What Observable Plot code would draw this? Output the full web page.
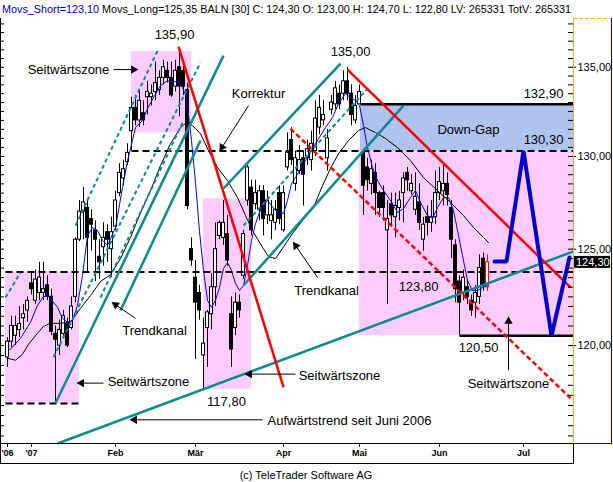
<!DOCTYPE html>
<html><head><meta charset="utf-8">
<script src="https://cdn.jsdelivr.net/npm/d3@7"></script>
<script src="https://cdn.jsdelivr.net/npm/@observablehq/plot@0.6"></script>
<style>
html,body{margin:0;padding:0;background:#fff;}
#chart svg{display:block;}
</style>
</head><body><div id="chart"></div>
<script>
// ---- Candles (trading-day index 0 = 20 Dec 2006 ... 120 = 19 Jun 2007) ----
const open = [119.4,120.2,120.5,120.8,121.4,121.8,123.2,122.3,122.7,122.7,
123.1,122.5,120.6,120.0,120.6,121.1,120.9,122.5,125.5,127.0,
127.2,126.6,126.0,124.6,125.1,125.9,125.0,126.2,128.0,128.8,
129.7,131.4,132.7,132.0,132.4,133.3,133.3,133.6,133.7,134.4,
134.8,134.4,133.9,135.0,134.8,133.7,125.0,123.5,122.7,119.5,
120.9,121.6,123.0,125.7,125.6,125.8,121.6,120.9,122.2,123.6,
127.6,128.3,127.4,127.1,128.1,126.8,126.5,126.4,128.0,126.0,
129.4,130.9,128.5,129.2,129.9,129.9,129.8,130.3,131.6,132.0,
129.9,132.6,132.9,133.5,133.5,134.2,133.5,132.0,132.9,130.2,
129.4,128.5,129.1,128.0,128.0,126.0,127.4,126.7,127.2,128.0,
129.1,128.1,127.1,127.5,125.5,126.7,126.4,126.7,128.0,128.1,
128.5,127.2,125.2,123.3,122.7,123.0,122.3,122.2,122.5,124.5,
123.0];
const high = [120.4,121.5,121.5,122.0,122.1,122.5,123.8,123.9,124.3,124.3,
123.6,122.9,121.0,121.3,121.8,121.4,122.5,125.6,127.6,128.3,
127.6,127.1,126.5,125.5,126.4,126.3,126.7,128.1,129.6,129.8,
130.7,133.3,133.4,133.7,133.1,134.2,134.0,135.3,134.8,135.4,
135.3,135.3,135.4,135.9,135.4,134.1,125.6,124.4,123.1,121.4,
121.8,123.7,126.4,126.5,127.6,126.8,122.5,122.7,122.6,126.0,
129.5,128.7,128.7,128.4,128.4,128.1,127.6,127.6,128.4,128.4,
131.3,131.6,130.3,130.6,130.3,130.9,131.4,133.1,133.4,133.1,
131.5,133.4,134.2,134.0,134.8,135.0,134.0,133.4,134.0,130.3,
129.9,129.8,129.6,128.1,128.4,127.6,128.0,128.0,128.1,129.1,
129.4,129.0,129.1,128.5,126.7,127.3,127.6,129.2,129.4,129.5,
129.1,127.6,125.5,123.6,123.9,123.4,122.6,123.1,124.7,124.8,
124.7];
const low = [118.9,119.9,120.0,120.4,120.8,121.2,122.6,122.1,122.3,122.3,
122.3,120.5,117.1,119.5,120.4,119.9,120.8,122.2,125.4,125.5,
123.8,124.9,123.3,123.4,124.1,124.3,123.5,126.0,127.8,128.4,
129.5,130.3,131.7,131.6,131.7,132.3,132.8,133.1,133.4,134.0,
134.1,133.3,133.6,132.2,133.4,127.1,124.1,119.3,121.3,117.8,
118.9,120.8,122.0,125.5,125.2,124.1,118.9,120.5,121.4,123.4,
127.3,125.7,127.1,126.5,125.7,126.3,125.5,126.0,126.3,125.9,
129.2,129.5,128.1,129.0,127.3,129.5,129.2,130.0,131.2,131.7,
129.2,132.3,132.6,132.6,133.1,133.1,131.7,131.8,132.9,126.8,
128.1,127.9,126.8,126.7,126.5,122.1,126.2,125.6,126.5,126.4,
128.1,127.9,126.8,126.0,124.9,125.7,125.9,126.3,127.6,127.3,
127.3,124.5,122.2,120.5,122.3,122.1,121.5,121.4,122.1,122.8,
122.8];
const close = [120.2,121.0,121.0,121.1,121.6,122.3,122.9,123.4,123.5,122.9,
122.5,120.7,120.3,120.8,121.5,120.0,122.0,125.5,127.0,127.5,
125.6,126.3,125.5,124.3,125.6,125.5,125.9,127.6,129.1,129.3,
130.2,132.7,132.0,133.1,132.0,133.6,133.5,134.1,134.4,135.0,
134.4,133.4,134.8,133.9,133.9,127.3,124.4,122.2,121.8,120.1,
121.7,123.0,125.0,126.4,126.4,124.4,119.8,122.2,121.8,125.8,
129.4,126.0,128.0,128.1,126.6,127.6,126.8,127.1,126.6,128.0,
130.2,129.8,129.9,129.8,129.0,130.4,130.7,132.1,132.7,132.3,
131.0,133.0,133.8,132.9,134.2,133.5,132.3,132.8,133.6,128.4,
128.7,129.3,128.0,127.2,127.2,126.6,126.8,127.3,127.6,128.8,
128.7,128.5,127.8,126.4,126.3,126.4,126.7,128.0,128.6,128.5,
127.9,125.5,122.9,122.2,123.5,122.5,121.8,122.7,124.0,123.1,
124.3];

// ---- Moving averages (index, value) ----
const shortIdx = [0.5,3.25,5.75,7.5,9,10.25,12.5,13.75,15,16.25,17.5,18.75,20,21.25,22.5,23.75,25,27,28.75,30,31.25,32,33.75,35,36.5,38.25,40,41.25,42.5,43.75,44.75,46,47,48,49,50,51,52,53,54,55,56,57,58,59,60,61,62,63,64,65,66,67,68,69,70,71,72,73,74.5,77,79.5,81.25,82.75,84.5,85.75,87,88,89,90,91.25,92.5,94,96.25,97.5,99,100.75,102,103.25,105,106.25,107.5,109,110.25,111.5,112.5,113.75,115,116.25,117.5,118.75,120];
const shortVal = [119.77,120.37,121.19,122.06,122.52,122.52,121.96,121.39,121.19,121.29,122.06,123.61,125.72,126.15,125.99,125.46,125.20,126.15,128.30,129.77,130.88,131.60,131.99,132.66,133.28,133.96,134.24,134.13,134.24,133.85,133.28,130.88,128.57,125.94,123.87,122.32,121.96,122.32,122.99,123.98,124.29,123.87,123.20,122.83,123.09,124.14,125.46,126.36,126.95,127.33,127.60,127.33,127.06,126.95,126.90,127.60,128.52,128.84,129.23,129.77,130.71,131.60,132.16,132.94,133.51,133.28,133.11,132.83,131.71,130.49,129.39,128.68,128.14,127.44,126.95,127.17,127.76,128.14,127.49,126.79,126.63,127.22,127.76,127.76,127.06,125.99,124.66,123.35,122.83,122.83,122.99,123.10];
const longIdx = [0,2,3.75,5.25,7.5,9,10.75,13.25,15.75,18.25,20.75,23.25,25.75,28.25,30.75,33.25,35.75,38.25,40.75,43.25,44.75,46.25,48.25,50.25,52.5,55,57.5,59.5,61.25,63.75,65.25,67,68.75,71.25,73.75,76.5,78.75,80.75,82.75,85.25,87.75,89.5,92,94.5,97.5,100.75,104,107.5,110.75,114,116.5,119,120.25];
const longVal = [119.36,119.26,119.56,120.07,120.63,120.98,121.14,121.14,121.19,121.91,122.57,123.30,123.66,124.50,125.62,126.95,128.14,129.50,130.71,131.60,131.88,131.71,131.26,130.32,129.39,128.68,127.76,126.79,125.99,125.09,124.61,124.50,125.04,125.83,126.52,127.22,128.41,129.34,130.15,130.88,131.43,131.60,131.32,130.99,130.49,129.77,128.84,128.14,127.49,126.79,126.15,125.62,125.35];

// ---- X axis ticks ----
const monthIdx = [0,6,27,47,69,88,108,129];
const monthLabels = ["'06","'07","Feb","Mär","Apr","Mai","Jun","Jul"];
const priceTicks = [120,125,130,135];

// ---- Zones [i1, i2, lowValue, highValue] ----
const pinkZones = [[-0.5,18,117.1,123.8],[31,46,131.3,135.9],[49,61,117.8,127.7],[88,141.5,120.5,130.3]];
const gapZone = [[88.25,141.5,130.3,132.9]];
// horizontal levels [i1, i2, value]
const dashedLevels = [[-0.5,141.5,123.8],[31,141.5,130.3],[-0.5,18.25,117.1]];
const solidLevels = [[88.25,141.5,132.9],[113,141.5,120.5]];
// trend lines [i1, v1, i2, v2]
const redSolid = [[42.75,136.19,69,117.91],[85,134.87,140.75,122.99]];
const redDashed = [[70.75,131.54,140.75,117.36]];
const tealSolid = [[12.5,115.13,141.5,124.88],[12,117.11,54,135.67],[54,128.25,83.25,135.21],[59,123.09,99,132.83],[28.25,121.8,48.25,130.88]];
const tealDashed = [[-0.5,122.47,3.25,123.77],[11.5,119.41,48.25,135.27],[17,126.25,37.75,136.07],[23.25,122.47,44,131.99],[59,126.25,90,133.79]];
// forecast zig-zag
const zigIdx = [121.75,124.75,129,136,140.5];
const zigVal = [124.35,124.35,130.3,120.5,124.56];
// arrows [fromI, fromV, toI, toV]
const arrows = [[26.5,134.87,32.5,134.87],[60.25,132.83,53.1,130.32],[32,121.39,26.2,122.21],[24,118.11,17.5,118.11],[63.75,116.29,30.75,116.29],[72,118.56,59.5,118.56],[77.5,123.51,71.5,125.35],[125.25,118.76,125.25,121.44]];
// annotations
const noteText = ["135,90","135,00","Seitwärtszone","Korrektur","Down-Gap","132,90","130,30","Trendkanal","Seitwärtszone","117,80","Seitwärtszone","Trendkanal","123,80","120,50","Seitwärtszone"];
const noteIdx = [41.75,85.75,15.25,62.75,115.25,134,134,36.75,35.25,54.75,83,79.75,102.75,117.75,125.25];
const noteVal = [136.88,135.9,134.87,133.51,131.49,133.51,130.93,120.73,118.16,117.16,118.46,122.83,123.04,119.87,118.06];
const trendNote = "Aufwärtstrend seit Juni 2006";
const trendNoteIdx = 65, trendNoteVal = 116.24;

const header = ["Movs_Short=123,10", " Movs_Long=125,35 BALN [30] C: 124,30 O: 123,00 H: 124,70 L: 122,80 LV: 265331 TotV: 265331"];
const lastPrice = "124,30";
const copyright = "(c) TeleTrader Software AG";

// ---- build ----
const W = 613, H = 482, mT = 20, mB = 39, mL = 1, mR = 40;
const xDom = [-1.5, 141.5], yDom = [115.13, 137.7];
const xs = d3.scaleLinear(xDom, [mL, W - mR]);
const ys = d3.scaleLog(yDom, [H - mB, mT]);

const candles = open.map((o, i) => ({i, o, h: high[i], l: low[i], c: close[i], last: i === open.length - 1}));
const shortMA = shortIdx.map((x, k) => ({x, y: shortVal[k]}));
const longMA = longIdx.map((x, k) => ({x, y: longVal[k]}));
const zig = zigIdx.map((x, k) => ({x, y: zigVal[k]}));
const notes = noteText.map((t, k) => ({t, x: noteIdx[k], y: noteVal[k]}));
const minorTicks = d3.range(115.5, 137.6, 0.5);

const heads = arrows.map(([a, b, c, d]) => {
  const X1 = xs(a), Y1 = ys(b), X2 = xs(c), Y2 = ys(d);
  const L = Math.hypot(X2 - X1, Y2 - Y1), ux = (X2 - X1) / L, uy = (Y2 - Y1) / L;
  const cx = X2 - ux * 4, cy = Y2 - uy * 4;
  return {x: xs.invert(cx), y: ys.invert(cy), rot: Math.atan2(ux, -uy) * 180 / Math.PI};
});

const fmt = v => v.toFixed(2).replace(".", ",");
const teal = "#0c8c8c";
const FONT = "'Liberation Sans', Arial, sans-serif";

const chart = Plot.plot({
  width: W, height: H, marginTop: mT, marginBottom: mB, marginLeft: mL, marginRight: mR,
  style: {fontFamily: FONT, background: "#fff", overflow: "visible"},
  x: {type: "linear", domain: xDom, axis: null},
  y: {type: "log", domain: yDom, axis: null},
  marks: [
    Plot.rect(pinkZones, {x1: d => d[0], x2: d => d[1], y1: d => d[2], y2: d => d[3], fill: "#ffccff"}),
    Plot.rect(gapZone, {x1: d => d[0], x2: d => d[1], y1: d => d[2], y2: d => d[3], fill: "#b0c2ee"}),
    // candles
    Plot.ruleX(candles, {x: "i", y1: "l", y2: "h", stroke: d => d.last ? "#ff0000" : "#000", strokeWidth: 1}),
    Plot.rect(candles, {x1: d => d.i - 0.38, x2: d => d.i + 0.38, y1: "o", y2: "c",
      fill: d => d.c >= d.o ? "#fff" : "#000", stroke: d => d.last ? "#ff0000" : "#000", strokeWidth: 1}),
    // moving averages
    Plot.line(longMA, {x: "x", y: "y", stroke: "#000", strokeWidth: 1}),
    Plot.line(shortMA, {x: "x", y: "y", stroke: "#0000ff", strokeWidth: 1}),
    // horizontal levels
    Plot.link(dashedLevels, {x1: d => d[0], x2: d => d[1], y1: d => d[2], y2: d => d[2], stroke: "#000", strokeWidth: 2, strokeDasharray: "7,4"}),
    Plot.link(solidLevels, {x1: d => d[0], x2: d => d[1], y1: d => d[2], y2: d => d[2], stroke: "#000", strokeWidth: 2.5}),
    // trend lines
    Plot.link(tealDashed, {x1: d => d[0], y1: d => d[1], x2: d => d[2], y2: d => d[3], stroke: teal, strokeWidth: 2, strokeDasharray: "4,3"}),
    Plot.link(tealSolid, {x1: d => d[0], y1: d => d[1], x2: d => d[2], y2: d => d[3], stroke: teal, strokeWidth: 2.5}),
    Plot.link(redDashed, {x1: d => d[0], y1: d => d[1], x2: d => d[2], y2: d => d[3], stroke: "#ff0000", strokeWidth: 2.5, strokeDasharray: "5,3"}),
    Plot.link(redSolid, {x1: d => d[0], y1: d => d[1], x2: d => d[2], y2: d => d[3], stroke: "#ff0000", strokeWidth: 2.5}),
    // forecast
    Plot.line(zig, {x: "x", y: "y", stroke: "#0000d0", strokeWidth: 4, strokeLinejoin: "miter"}),
    // arrows
    Plot.link(arrows, {x1: d => d[0], y1: d => d[1], x2: d => d[2], y2: d => d[3], stroke: "#000", strokeWidth: 1}),
    Plot.dot(heads, {x: "x", y: "y", rotate: "rot", symbol: "triangle2", r: 4, fill: "#000", stroke: "none"}),
    // labels
    Plot.text(notes, {x: "x", y: "y", text: "t", fontSize: 13, fill: "#000"}),
    Plot.text([trendNote], {x: trendNoteIdx, y: trendNoteVal, text: d => d, textAnchor: "start", fontSize: 13, fill: "#000"}),
    // left / right ticks
    Plot.ruleY(minorTicks, {x1: -1.5, x2: -0.75, stroke: "#000", strokeWidth: 1}),
    Plot.ruleY(minorTicks, {x1: 140.25, x2: 141.5, stroke: "#000", strokeWidth: 1}),
    Plot.ruleY(priceTicks, {x1: 141.25, x2: 142.25, stroke: "#000", strokeWidth: 1}),
    Plot.text(priceTicks, {y: d => d, frameAnchor: "right", dx: 4, textAnchor: "start", text: fmt, fontSize: 11, fill: "#000"}),
    // month axis
    Plot.axisX({ticks: monthIdx, tickFormat: d => monthLabels[monthIdx.indexOf(d)], tickSize: 4, tickPadding: 2,
      fontSize: 9, fontWeight: "bold", label: null, stroke: "#000"})
  ]
});

const svg = d3.select(chart);
// plot border and axis boxes
svg.append("line").attr("x1", 0.5).attr("x2", 0.5).attr("y1", 18).attr("y2", 463).attr("stroke", "#000");
svg.append("rect").attr("x", 0.5).attr("y", 443.5).attr("width", 573).attr("height", 20).attr("fill", "none").attr("stroke", "#000");
svg.append("line").attr("x1", 573.5).attr("x2", 573.5).attr("y1", 18).attr("y2", 443).attr("stroke", "#f0b030");
svg.append("line").attr("x1", 573).attr("x2", 611).attr("y1", 18.5).attr("y2", 18.5).attr("stroke", "#f0b030").attr("stroke-dasharray", "4,2");
svg.append("line").attr("x1", 611.5).attr("x2", 611.5).attr("y1", 18).attr("y2", 444).attr("stroke", "#0000c0");
svg.append("line").attr("x1", 573).attr("x2", 612).attr("y1", 443.5).attr("y2", 443.5).attr("stroke", "#0000c0");
// last price box
const yp = chart.scale("y").apply(close[close.length - 1]);
svg.append("rect").attr("x", 574).attr("y", yp - 6).attr("width", 36).attr("height", 12).attr("fill", "#000");
svg.append("text").attr("x", 576).attr("y", yp + 4).attr("text-anchor", "start").attr("fill", "#fff").attr("font-size", 11)
  .attr("font-family", FONT).text(lastPrice);
// header
const ht = svg.append("text").attr("x", 2).attr("y", 13).attr("text-anchor", "start").attr("font-size", 11)
  .attr("font-family", FONT).attr("textLength", 569).attr("lengthAdjust", "spacingAndGlyphs");
ht.append("tspan").attr("fill", "#0000cc").text(header[0]);
ht.append("tspan").attr("fill", "#000").text(header[1]);
// copyright
svg.append("text").attr("x", 306).attr("y", 479).attr("text-anchor", "middle").attr("font-size", 11)
  .attr("font-family", FONT).attr("fill", "#000").text(copyright);

document.getElementById("chart").appendChild(chart);
</script>
</body></html>
